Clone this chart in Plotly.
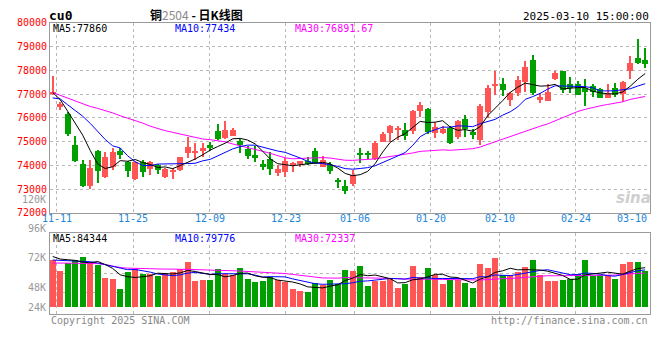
import plotly.graph_objects as go

# ---------------- data ----------------
dates = [
    "2024-11-08", "2024-11-11", "2024-11-12", "2024-11-13", "2024-11-14", "2024-11-15",
    "2024-11-18", "2024-11-19", "2024-11-20", "2024-11-21", "2024-11-22",
    "2024-11-25", "2024-11-26", "2024-11-27", "2024-11-28", "2024-11-29",
    "2024-12-02", "2024-12-03", "2024-12-04", "2024-12-05", "2024-12-06",
    "2024-12-09", "2024-12-10", "2024-12-11", "2024-12-12", "2024-12-13",
    "2024-12-16", "2024-12-17", "2024-12-18", "2024-12-19", "2024-12-20",
    "2024-12-23", "2024-12-24", "2024-12-25", "2024-12-26", "2024-12-27",
    "2024-12-30", "2024-12-31", "2025-01-02", "2025-01-03",
    "2025-01-06", "2025-01-07", "2025-01-08", "2025-01-09", "2025-01-10",
    "2025-01-13", "2025-01-14", "2025-01-15", "2025-01-16", "2025-01-17",
    "2025-01-20", "2025-01-21", "2025-01-22", "2025-01-23", "2025-01-24",
    "2025-01-27", "2025-02-05", "2025-02-06", "2025-02-07",
    "2025-02-10", "2025-02-11", "2025-02-12", "2025-02-13", "2025-02-14",
    "2025-02-17", "2025-02-18", "2025-02-19", "2025-02-20", "2025-02-21",
    "2025-02-24", "2025-02-25", "2025-02-26", "2025-02-27", "2025-02-28",
    "2025-03-03", "2025-03-04", "2025-03-05", "2025-03-06", "2025-03-07",
    "2025-03-10",
]

opens = [76990, 76470, 76180, 74860, 74060, 73140, 74610, 73500, 73910, 74610,
         74120, 73410, 74130, 73860, 74000, 73520, 73750, 73790, 74500, 74530,
         74610, 74860, 75460, 75160, 75250, 75020, 74690, 74450, 74040, 74280,
         73680, 73700, 74040, 74040, 74200, 74610, 73930, 74000, 73330, 73140,
         73220, 74490, 74480, 74270, 74990, 75360, 75500, 75500, 75460, 76290,
         76360, 75360, 75360, 75590, 75200, 75950, 75400, 75060, 76250, 77370,
         77440, 76760, 77070, 77510, 78460, 76770, 76730, 77640, 77990, 77410,
         77410, 77270, 77340, 77210, 76840, 77250, 77000, 77990, 78530, 78460]
highs = [77780, 76690, 76230, 75230, 74240, 74240, 74650, 74580, 74710, 74730,
         74190, 74200, 74230, 74170, 74060, 73900, 73900, 74370, 75190, 74930,
         74940, 74980, 75760, 75870, 75570, 75090, 74820, 74820, 74240, 74570,
         74000, 74310, 74130, 74200, 74340, 74710, 74380, 74130, 73450, 73380,
         73820, 74710, 74610, 75020, 75400, 75700, 75640, 75770, 76320, 76660,
         76410, 75840, 75640, 75670, 75910, 76110, 75540, 76590, 77380, 77990,
         77680, 77080, 77770, 78390, 78640, 77070, 77410, 77990, 77990, 77710,
         77550, 77620, 77410, 77270, 77410, 77480, 77550, 78600, 79320, 78940]
lows = [76950, 76330, 75230, 74160, 73080, 73000, 73270, 73480, 73820, 74250,
        73520, 73400, 73520, 73590, 73630, 73480, 73420, 73780, 74300, 74230,
        74360, 74610, 75050, 75120, 75250, 74500, 74280, 74160, 73790, 73600,
        73560, 73520, 73700, 73930, 74030, 74040, 73920, 73630, 73040, 72790,
        73110, 74090, 74270, 74230, 74990, 74990, 75060, 75050, 75320, 76040,
        75330, 75160, 75320, 74910, 75130, 75200, 75090, 74840, 76000, 76960,
        76910, 76510, 76920, 77110, 76970, 76630, 76700, 77590, 77070, 77070,
        76960, 76510, 76860, 76830, 76830, 76860, 76660, 77660, 78290, 78120]
closes = [77100, 76600, 75320, 74200, 73140, 73870, 73760, 74360, 74570, 74420,
          73750, 74130, 73720, 74160, 73790, 73860, 73770, 74360, 74790, 74550,
          74750, 74750, 75120, 75500, 75470, 74840, 74390, 74320, 73940, 73850,
          73850, 74170, 74090, 74170, 74040, 74090, 74240, 73760, 73300, 72900,
          73610, 74460, 74460, 74950, 75320, 75640, 75540, 75230, 76290, 76560,
          75400, 75620, 75540, 74950, 75870, 75540, 75290, 76500, 77270, 77400,
          77170, 77030, 77600, 78130, 77040, 76890, 77110, 77890, 77170, 77250,
          76970, 77110, 77110, 76840, 77030, 76970, 77520, 78300, 78300, 78260]
volumes = [101300, 76500, 94400, 101300, 107500, 94400, 90300, 62000, 59900, 39300,
           74400, 82000, 70300, 69600, 66800, 73700, 74400, 82000, 95100, 55800,
           57900, 57900, 82000, 71000, 68900, 82700, 59900, 53100, 55800, 64100,
           57200, 53100, 39300, 35100, 33100, 51700, 47500, 58600, 48900, 78500,
           76500, 86800, 45500, 56500, 56500, 59900, 41300, 48900, 86800, 64100,
           82700, 68200, 49600, 57900, 58600, 51700, 41300, 90900, 82700, 105400,
           68200, 68200, 74400, 84700, 101300, 68200, 55800, 55800, 57900, 59900,
           70300, 101300, 66100, 68200, 68200, 59900, 90900, 97100, 97100, 76500]

# moving-average values on the first days, before each window fills
ma5_early = [77070, 76770, 76280, 75770]
ma10_early = [76840, 76800, 76550, 76320, 76070, 75770, 75430, 75090, 74820]
ma30_early = [77070, 76950, 76820, 76690, 76570, 76480, 76400, 76310, 76210, 76090,
              75990, 75880, 75780, 75650, 75550, 75460, 75390, 75320, 75260, 75160,
              75110, 75080, 75030, 74990, 74900, 74830, 74750, 74670, 74590]
vol_ma5_early = [108200, 102700, 101300, 99900]
vol_ma10_early = [100600, 99900, 99200, 98500, 98500, 97100, 94400, 90900, 86100]
vol_ma30_early = [94400, 94400, 94400, 94400, 93700, 93700, 93000, 90900, 87500, 84700,
                  83400, 82700, 82000, 82000, 82000, 81300, 81300, 81300, 81300, 80600,
                  79900, 79200, 79200, 78500, 77900, 77200, 76500, 75800, 75100]

price_ticks = [72000, 73000, 74000, 75000, 76000, 77000, 78000, 79000, 80000]
date_tick_labels = ["11-11", "11-25", "12-09", "12-23", "01-06", "01-20", "02-10", "02-24", "03-10"]
vol_tick_labels = ["96K", "72K", "48K", "24K"]

ma_price_labels = ["MA5:77860", "MA10:77434", "MA30:76891.67"]
ma_vol_labels = ["MA5:84344", "MA10:79776", "MA30:72337"]

# ---------------- helpers ----------------
RED = "#FF5555"
GREEN = "#00A000"
W, H = 660, 360


def px(x):
    return x / W


def py(y):
    return 1 - y / H


def moving_avg(vals, n, early):
    out = list(early)
    for i in range(len(early), len(vals)):
        out.append(sum(vals[i - n + 1:i + 1]) / n)
    return out


n = len(dates)
idx = list(range(n))
up = [c >= o for o, c in zip(opens, closes)]
colors = [RED if u else GREEN for u in up]

body_base = [min(o, c) for o, c in zip(opens, closes)]
body_len = [max(abs(c - o), 45) for o, c in zip(opens, closes)]
wick_len = [h - l for h, l in zip(highs, lows)]

ma5 = moving_avg(closes, 5, ma5_early)
ma10 = moving_avg(closes, 10, ma10_early)
ma30 = moving_avg(closes, 30, ma30_early)
vma5 = moving_avg(volumes, 5, vol_ma5_early)
vma10 = moving_avg(volumes, 10, vol_ma10_early)
vma30 = moving_avg(volumes, 30, vol_ma30_early)

short_dates = [d[5:] for d in dates]
tick_idx = [short_dates.index(t) for t in date_tick_labels]
grid_pos = [i * 1.0175 - 0.45 for i in tick_idx]

fig = go.Figure()

# price candles
fig.add_trace(go.Bar(x=idx, y=wick_len, base=lows, width=0.14,
                     marker=dict(color=colors, line=dict(width=0)),
                     xaxis="x", yaxis="y", hoverinfo="skip"))
fig.add_trace(go.Bar(x=idx, y=body_len, base=body_base, width=0.8,
                     marker=dict(color=colors, line=dict(width=0)),
                     xaxis="x", yaxis="y", hoverinfo="skip"))
for series, col in [(ma30, "#FF00FF"), (ma10, "#0000FF"), (ma5, "#000000")]:
    fig.add_trace(go.Scatter(x=idx, y=series, mode="lines",
                             line=dict(color=col, width=1),
                             xaxis="x", yaxis="y", hoverinfo="skip"))

# volume
fig.add_trace(go.Bar(x=idx, y=volumes, width=0.8,
                     marker=dict(color=colors, line=dict(width=0)),
                     xaxis="x2", yaxis="y2", hoverinfo="skip"))
for series, col in [(vma30, "#FF00FF"), (vma10, "#0000FF"), (vma5, "#000000")]:
    fig.add_trace(go.Scatter(x=idx, y=series, mode="lines",
                             line=dict(color=col, width=1),
                             xaxis="x2", yaxis="y2", hoverinfo="skip"))

FRAME = "#9a9a9a"
GRID = "#b8b8b8"
MONO = "DejaVu Sans Mono"
xrange_ = [-0.36, 79.64]
xdom = [px(50), px(650)]

common_x = dict(range=xrange_, domain=xdom, showline=True, mirror=True, linecolor=FRAME,
                linewidth=1, tickvals=grid_pos, showticklabels=False, ticks="",
                showgrid=True, gridcolor=GRID, griddash="dot", gridwidth=1,
                zeroline=False, fixedrange=True)

fig.update_layout(
    width=W, height=H,
    margin=dict(l=0, r=0, t=0, b=0),
    paper_bgcolor="white", plot_bgcolor="white",
    showlegend=False, barmode="overlay", bargap=0,
    xaxis=dict(**common_x, anchor="y"),
    yaxis=dict(range=[72000, 80000], domain=[py(213.7), py(18.5)],
               showline=True, mirror=True, linecolor=FRAME, linewidth=1,
               tickvals=price_ticks, ticktext=[str(v) for v in price_ticks],
               tickfont=dict(family=MONO, size=10, color="#FF0000"),
               ticks="", showgrid=True, gridcolor=GRID, griddash="dot",
               zeroline=False, fixedrange=True, anchor="x"),
    xaxis2=dict(**common_x, anchor="y2"),
    yaxis2=dict(range=[-15090, 157710], domain=[py(318.3), py(234.7)],
                showline=True, mirror=True, linecolor=FRAME, linewidth=1,
                tickvals=[113700, 72300, 31000], showticklabels=False, ticks="",
                showgrid=True, gridcolor=GRID, griddash="dot",
                zeroline=False, fixedrange=True, anchor="x2"),
)

ann = []


def text(x, y, s, color="#000", size=10, anchor="left", family=MONO, pad=1):
    ann.append(dict(x=px(x), y=py(y), xref="paper", yref="paper", text=s,
                    showarrow=False, xanchor=anchor, yanchor="middle", borderpad=pad,
                    font=dict(family=family, size=size, color=color)))


text(48, 10.5, "<b>cu0</b>", size=13, pad=0)
text(196, 9.5, "<b>铜</b><span style='color:#8a8a8a'>2504</span><b> - 日K线图</b>",
     size=12, anchor="center", family="Noto Sans CJK SC", pad=0)
text(650, 11.5, "2025-03-10 15:00:00", size=11, anchor="right", pad=0)

for s, x, c in zip(ma_price_labels, [52, 174, 294], ["#000000", "#0000FF", "#FF00FF"]):
    text(x, 24.5, s, color=c, size=10, pad=0)
for s, x, c in zip(ma_vol_labels, [52, 174, 294], ["#000000", "#0000FF", "#FF00FF"]):
    text(x, 240, s, color=c, size=10, pad=0)

text(47, 200, "120K", color="#999999", size=10, anchor="right", pad=0)
for s, y in zip(vol_tick_labels, [230, 260, 291, 311]):
    text(47, y, s, color="#999999", size=10, anchor="right", pad=0)

for i, (lab, g) in enumerate(zip(date_tick_labels, grid_pos)):
    xp = 52.7 + 7.5 * g
    if i == len(date_tick_labels) - 1:
        text(649, 219.5, lab, color="#1C86D9", size=10, anchor="right")
    else:
        text(xp, 219.5, lab, color="#1C86D9", size=10, anchor="center")

text(49, 324, "Copyright 2025 SINA.COM", color="#888888", size=10)
text(650, 324, "http://finance.sina.com.cn", color="#888888", size=10, anchor="right")
text(633, 198, "<b><i>sina</i></b>", color="#cfcfcf", size=15, anchor="center",
     family="DejaVu Sans")

fig.update_layout(annotations=ann)

fig.write_html("out.html", config={"displayModeBar": False},
               post_script="document.body.style.margin='0';document.body.style.padding='0';")
